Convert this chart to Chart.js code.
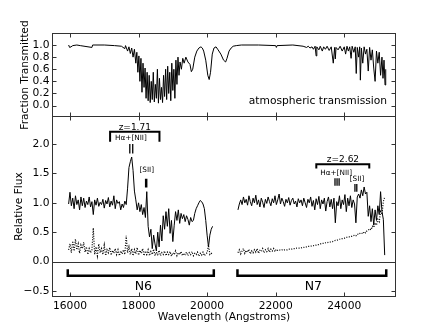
<!DOCTYPE html>
<html><head><meta charset="utf-8">
<script src="https://cdn.jsdelivr.net/npm/chart.js@4/dist/chart.umd.min.js"></script>
<style>
html,body{margin:0;padding:0;background:#fff;}
#wrap{position:relative;width:440px;height:330px;background:#fff;}
canvas{position:absolute;left:0;top:0;}
</style></head><body>
<div id="wrap"><canvas id="c1" width="440" height="330"></canvas><canvas id="c2" width="440" height="330"></canvas></div>
<script>
// ---------- data ----------
const xTicks = [16000, 18000, 20000, 22000, 24000];
const transTicks = [0.0, 0.2, 0.4, 0.6, 0.8, 1.0];
const fluxTicks = [-0.5, 0.0, 0.5, 1.0, 1.5, 2.0];

// atmospheric transmission
const transWave = [
15960,15990,16030,16080,16200,16300,16640,16660,17000,17300,
17500,17600,17620,17680,17720,17760,17800,17840,17880,17920,
17950,17980,18010,18040,18070,18100,18130,18160,18190,18220,
18250,18280,18310,18340,18370,18400,18430,18460,18490,18520,
18550,18580,18610,18640,18670,18700,18730,18760,18790,18820,
18850,18880,18910,18940,18970,19000,19030,19060,19090,19120,
19150,19180,19210,19250,19290,19330,19380,19440,19500,19540,
19580,19640,19700,19760,19820,19860,19900,19960,20020,20060,
20100,20150,20200,20260,20320,20400,20480,20540,20580,20640,
20700,20760,20850,21000,21500,22000,22020,22040,22500,22800,
22900,22950,23000,23060,23100,23150,23180,23200,23260,23300,
23360,23400,23450,23500,23560,23620,23680,23720,23740,23760,
23820,23880,23940,24000,24040,24080,24120,24160,24200,24230,
24280,24320,24350,24380,24420,24450,24470,24500,24540,24580,
24620,24660,24700,24740,24780,24820,24860,24900,24940,24980,
25020,25060,25100,25130,25160,25190,25210];
const transValue = [
1.0,0.96,0.97,0.99,1.0,0.99,0.96,1.0,1.0,0.99,
0.98,0.94,0.99,0.90,0.97,0.86,0.95,0.80,0.93,0.70,
0.88,0.55,0.82,0.40,0.78,0.22,0.70,0.30,0.62,0.12,
0.55,0.08,0.50,0.05,0.40,0.10,0.55,0.06,0.35,0.12,
0.60,0.04,0.45,0.10,0.30,0.05,0.50,0.15,0.60,0.10,
0.65,0.20,0.55,0.08,0.70,0.25,0.60,0.12,0.75,0.35,
0.80,0.50,0.72,0.60,0.78,0.70,0.80,0.72,0.68,0.56,
0.60,0.80,0.90,0.95,0.97,0.95,0.90,0.75,0.50,0.43,
0.55,0.85,0.95,0.97,0.92,0.85,0.75,0.72,0.78,0.90,
0.95,0.98,0.99,1.0,1.0,0.99,0.96,0.99,1.0,0.98,
0.96,0.98,0.95,0.97,0.93,0.98,0.82,0.97,0.92,0.98,
0.90,0.97,0.93,0.98,0.91,0.97,0.70,0.96,0.77,0.96,
0.92,0.98,0.90,0.97,0.85,0.98,0.90,0.97,0.78,0.98,
0.88,0.97,0.53,0.96,0.80,0.97,0.42,0.95,0.70,0.97,
0.85,0.93,0.57,0.96,0.75,0.92,0.62,0.40,0.90,0.70,
0.88,0.50,0.80,0.45,0.75,0.34,0.60];

// spectra are sampled on a regular wavelength grid (start, step in Angstroms)
const n6Start = 15960, n7Start = 20900, sampleStep = 40;

const n6Flux = [
0.98,1.18,0.95,1.08,0.90,1.12,0.97,1.05,0.88,1.10,
0.95,1.08,0.92,1.03,0.97,1.10,0.93,1.02,0.80,1.05,
0.96,1.08,0.94,1.01,0.97,1.06,0.91,1.04,0.98,1.09,
0.93,1.03,0.96,1.12,0.90,1.05,0.99,1.02,0.88,0.98,
0.92,1.03,0.97,1.25,1.60,1.70,1.78,1.55,1.20,1.05,
0.88,1.00,0.85,0.97,0.80,0.92,0.75,1.19,0.60,0.42,
0.55,0.22,0.45,0.30,0.18,0.50,0.25,0.62,0.35,0.78,
0.55,0.85,0.60,0.90,0.48,0.70,0.34,0.62,0.85,0.70,
0.88,0.65,0.82,0.73,0.80,0.68,0.78,0.72,0.62,0.75,
0.68,0.70,0.82,0.90,0.95,1.00,1.04,1.02,0.98,0.90,
0.70,0.45,0.25,0.45,0.55,0.60];
const n6Noise = [
0.20,0.30,0.15,0.35,0.18,0.38,0.20,0.30,0.14,0.28,
0.22,0.33,0.16,0.25,0.12,0.22,0.15,0.20,0.57,0.12,
0.25,0.10,0.30,0.15,0.22,0.12,0.28,0.10,0.20,0.15,
0.24,0.11,0.19,0.14,0.22,0.12,0.20,0.10,0.18,0.13,
0.20,0.12,0.44,0.15,0.25,0.12,0.22,0.10,0.20,0.13,
0.24,0.11,0.19,0.14,0.22,0.10,0.18,0.12,0.20,0.10,
0.17,0.12,0.21,0.10,0.16,0.12,0.19,0.10,0.15,0.12,
0.18,0.10,0.16,0.12,0.17,0.09,0.15,0.12,0.18,0.10,
0.15,0.12,0.17,0.10,0.14,0.12,0.16,0.10,0.15,0.12,
0.17,0.10,0.14,0.12,0.16,0.09,0.14,0.11,0.16,0.10,
0.13,0.15,0.28,0.12,0.14,0.12];
const n7Flux = [
0.88,0.98,1.05,0.97,1.10,1.00,1.06,0.96,1.12,1.02,
0.95,1.08,1.00,1.13,0.97,1.05,0.93,1.08,1.01,0.92,
1.06,0.99,1.10,1.02,0.95,1.07,1.00,1.12,0.97,1.05,
1.15,0.98,1.08,1.02,0.94,1.06,1.00,1.09,0.96,1.04,
1.08,0.98,1.03,0.93,1.07,1.00,1.05,0.95,1.08,1.00,
0.92,1.06,1.00,1.10,0.94,1.04,0.88,1.07,0.97,1.11,
0.90,1.05,0.98,1.08,0.86,1.02,1.10,0.93,1.06,0.90,
1.08,0.66,1.02,0.95,1.12,0.90,1.05,0.97,1.14,0.85,
1.08,0.95,1.12,0.92,1.05,0.98,0.66,1.10,1.15,1.08,
1.22,1.12,1.27,1.15,1.18,0.77,0.95,0.68,0.90,0.62,
0.88,0.70,0.95,0.80,1.19,0.85,0.72,0.11];
const n7Noise = [
0.15,0.20,0.13,0.18,0.22,0.14,0.19,0.16,0.21,0.13,
0.18,0.15,0.20,0.16,0.22,0.14,0.19,0.17,0.22,0.15,
0.20,0.17,0.22,0.16,0.21,0.18,0.22,0.17,0.21,0.19,
0.20,0.19,0.20,0.19,0.20,0.20,0.20,0.21,0.21,0.21,
0.22,0.22,0.22,0.23,0.23,0.23,0.23,0.24,0.24,0.25,
0.25,0.26,0.26,0.26,0.27,0.27,0.28,0.28,0.29,0.29,
0.30,0.30,0.31,0.31,0.32,0.32,0.33,0.33,0.34,0.34,
0.35,0.36,0.36,0.37,0.38,0.38,0.39,0.40,0.40,0.41,
0.42,0.42,0.43,0.43,0.44,0.45,0.44,0.47,0.46,0.48,
0.49,0.47,0.51,0.49,0.52,0.53,0.56,0.54,0.60,0.58,
0.66,0.62,0.72,0.68,0.85,0.80,1.02,1.10];

// annotations (data coordinates)
const sampleBrackets = [
  {label: 'N6', from: 15935, to: 20195, labelAt: 18140},
  {label: 'N7', from: 20885, to: 25225, labelAt: 23100}
];
const redshiftGroups = [
  {label: 'z=1.71', from: 17170, to: 18610, level: 2.21, drop: 0.17, textAt: 17890, textLevel: 2.235},
  {label: 'z=2.62', from: 23185, to: 24730, level: 1.656, drop: 0.07, textAt: 23962, textLevel: 1.70}
];
const lineMarks = [
  {label: 'H\u03b1+[NII]', textAt: 17777, textLevel: 2.07, lines: [17745, 17830], top: 2.0, bottom: 1.84},
  {label: '[SII]', textAt: 18240, textLevel: 1.52, lines: [18205, 18240], top: 1.41, bottom: 1.26},
  {label: 'H\u03b1+[NII]', textAt: 23763, textLevel: 1.475, lines: [23730, 23790, 23850], top: 1.42, bottom: 1.29},
  {label: '[SII]', textAt: 24372, textLevel: 1.37, lines: [24312, 24366], top: 1.32, bottom: 1.19}
];

// ---------- helpers ----------
const FONT = '"DejaVu Sans", "Liberation Sans", sans-serif';
const FRAME = '#333';
Chart.defaults.font.family = FONT;
Chart.defaults.color = '#000';

function toPoints(wave, vals) { return vals.map((v, i) => ({x: wave[i], y: v})); }
function gridPoints(start, vals) { return vals.map((v, i) => ({x: start + i * sampleStep, y: v})); }
function fmt(v) { return (v < 0 ? '\u2212' : '') + Math.abs(v).toFixed(1); }
function txt(ctx, s, x, y, size, align, baseline, rot) {
  ctx.save(); ctx.translate(x, y); if (rot) ctx.rotate(rot);
  ctx.font = size + 'px ' + FONT; ctx.fillStyle = '#000';
  ctx.textAlign = align || 'center'; ctx.textBaseline = baseline || 'alphabetic';
  ctx.fillText(s, 0, 0); ctx.restore();
}
function frameAndTicks(chart, yt) {
  const {ctx, chartArea: a, scales: {x, y}} = chart;
  ctx.save(); ctx.strokeStyle = FRAME; ctx.lineWidth = 1; ctx.beginPath();
  const L = 4;
  xTicks.forEach(v => { const px = Math.round(x.getPixelForValue(v)) + 0.5;
    ctx.moveTo(px, a.top); ctx.lineTo(px, a.top + L); ctx.moveTo(px, a.bottom); ctx.lineTo(px, a.bottom - L); });
  yt.forEach(v => { const py = Math.round(y.getPixelForValue(v)) + 0.5;
    ctx.moveTo(a.left, py); ctx.lineTo(a.left + L, py); ctx.moveTo(a.right, py); ctx.lineTo(a.right - L, py); });
  ctx.stroke();
  ctx.strokeRect(a.left, a.top, a.right - a.left, a.bottom - a.top);
  ctx.restore();
}
const lineDs = (data, dash, width) => ({data, borderColor: '#000', borderWidth: width || 1, pointRadius: 0, tension: 0,
  fill: false, borderDash: dash || [], spanGaps: false});
const yScale = (min, max, ticks) => ({
  type: 'linear', min, max,
  afterFit(s) { s.width = 52.5; },
  afterBuildTicks(s) { s.ticks = ticks.map(v => ({value: v})); },
  ticks: {padding: 3, autoSkip: false, font: {size: 10.7}, color: '#000', callback: v => fmt(v)},
  grid: {display: false, drawTicks: false}, border: {display: false}
});

// ---------- top panel: atmospheric transmission ----------
new Chart(document.getElementById('c1'), {
  type: 'line',
  data: {datasets: [lineDs(toPoints(transWave, transValue))]},
  options: {
    responsive: false, animation: false, events: [],
    layout: {padding: {left: 0, top: 33.5, right: 44.5, bottom: 213.5}},
    plugins: {legend: {display: false}, tooltip: {enabled: false}},
    scales: {
      x: {type: 'linear', min: 15490, max: 25495, display: false},
      y: yScale(-0.18, 1.19, transTicks)
    }
  },
  plugins: [{
    id: 'topDeco',
    afterDraw(chart) {
      const {ctx, chartArea: a, scales: {x, y}} = chart;
      frameAndTicks(chart, transTicks);
      txt(ctx, 'atmospheric transmission', x.getPixelForValue(25250), y.getPixelForValue(0.02), 10.7, 'right');
      txt(ctx, 'Fraction Transmitted', 28, (a.top + a.bottom) / 2, 10.7, 'center', 'alphabetic', -Math.PI / 2);
    }
  }]
});

// ---------- bottom panel: relative flux ----------
new Chart(document.getElementById('c2'), {
  type: 'line',
  data: {datasets: [
    lineDs(gridPoints(n6Start, n6Flux)),
    lineDs(gridPoints(n7Start, n7Flux)),
    lineDs(gridPoints(n6Start, n6Noise), [1, 1.5], 1.2),
    lineDs(gridPoints(n7Start, n7Noise), [1, 1.5], 1.2)
  ]},
  options: {
    responsive: false, animation: false, events: [],
    layout: {padding: {left: 0, top: 116.5, right: 44.5, bottom: 0}},
    plugins: {legend: {display: false}, tooltip: {enabled: false}},
    scales: {
      x: {type: 'linear', min: 15490, max: 25495,
        afterFit(s) { s.height = 33.5; },
        afterBuildTicks(s) { s.ticks = xTicks.map(v => ({value: v})); },
        ticks: {padding: 3, autoSkip: false, maxRotation: 0, font: {size: 10.7}, color: '#000', callback: v => String(v)},
        grid: {display: false, drawTicks: false}, border: {display: false}},
      y: yScale(-0.595, 2.47, fluxTicks)
    }
  },
  plugins: [{
    id: 'bottomDeco',
    beforeDatasetsDraw(chart) {
      const {ctx, chartArea: a, scales: {y}} = chart;
      const py = Math.round(y.getPixelForValue(0)) + 0.5;
      ctx.save(); ctx.strokeStyle = FRAME; ctx.lineWidth = 1;
      ctx.beginPath(); ctx.moveTo(a.left, py); ctx.lineTo(a.right, py); ctx.stroke(); ctx.restore();
    },
    afterDraw(chart) {
      const {ctx, chartArea: a, scales: {x, y}} = chart;
      frameAndTicks(chart, fluxTicks);
      ctx.save(); ctx.strokeStyle = '#000'; ctx.lineCap = 'butt';
      // sample brackets
      ctx.lineWidth = 2.5;
      sampleBrackets.forEach(b => {
        const x0 = x.getPixelForValue(b.from), x1 = x.getPixelForValue(b.to);
        const yb = y.getPixelForValue(-0.243), ye = y.getPixelForValue(-0.13);
        ctx.beginPath(); ctx.moveTo(x0, ye); ctx.lineTo(x0, yb); ctx.lineTo(x1, yb); ctx.lineTo(x1, ye); ctx.stroke();
        txt(ctx, b.label, x.getPixelForValue(b.labelAt), y.getPixelForValue(-0.48), 12.5, 'center');
      });
      // redshift brackets
      ctx.lineWidth = 2;
      redshiftGroups.forEach(g => {
        const x0 = x.getPixelForValue(g.from), x1 = x.getPixelForValue(g.to);
        const yl = y.getPixelForValue(g.level), yd = y.getPixelForValue(g.level - g.drop);
        ctx.beginPath(); ctx.moveTo(x0, yd); ctx.lineTo(x0, yl); ctx.lineTo(x1, yl); ctx.lineTo(x1, yd); ctx.stroke();
        txt(ctx, g.label, x.getPixelForValue(g.textAt), y.getPixelForValue(g.textLevel), 9, 'center');
      });
      // line markers
      ctx.lineWidth = 1.3;
      lineMarks.forEach(m => {
        txt(ctx, m.label, x.getPixelForValue(m.textAt), y.getPixelForValue(m.textLevel), 7.3, 'center');
        ctx.beginPath();
        m.lines.forEach(l => { const px = x.getPixelForValue(l);
          ctx.moveTo(px, y.getPixelForValue(m.top)); ctx.lineTo(px, y.getPixelForValue(m.bottom)); });
        ctx.stroke();
      });
      ctx.restore();
      txt(ctx, 'Relative Flux', 22, (a.top + a.bottom) / 2, 10.7, 'center', 'alphabetic', -Math.PI / 2);
      txt(ctx, 'Wavelength (Angstroms)', (a.left + a.right) / 2, 320, 10.7, 'center');
    }
  }]
});
</script>
</body></html>
